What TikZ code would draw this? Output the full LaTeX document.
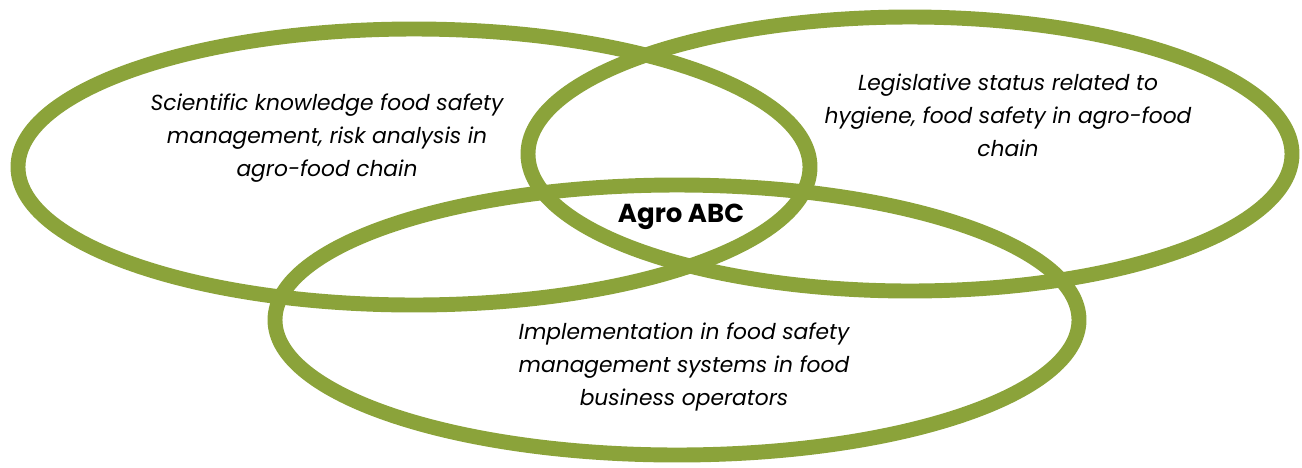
\documentclass[tikz,border=0pt]{standalone}
\usepackage{fontspec}
\setmainfont{Poppins}
\usetikzlibrary{positioning}
\definecolor{ringgreen}{RGB}{139,163,58}

\begin{document}
\begin{tikzpicture}[x=0.02cm, y=-0.02cm, ring/.style = {draw=ringgreen, line width=8.5pt}, areatext/.style = {align=center, font=\fontsize{12.4}{18.8}\selectfont\itshape, text=black}, coretext/.style = {font=\fontsize{14.8}{18}\selectfont\bfseries, text=black}]

    \useasboundingbox (0,0) rectangle (1302,467);

    % rings
    \draw[ring] (414,167) ellipse [x radius=396, y radius=138];
    \draw[ring] (910,154) ellipse [x radius=382, y radius=137];
    \draw[ring] (677,320) ellipse [x radius=402, y radius=135];

    % texts
    \node[areatext] (science) at (327,138) {Scientific knowledge food safety\\management, risk analysis in\\agro-food chain};
    \node[areatext] (legis) at (1008,115) {Legislative status related to\\hygiene, food safety in agro-food\\chain};
    \node[areatext] (implem) at (684,367) {Implementation in food safety\\management systems in food\\business operators};
    \node[coretext] (agro) at (681,217) {Agro ABC};

\end{tikzpicture}
\end{document}
